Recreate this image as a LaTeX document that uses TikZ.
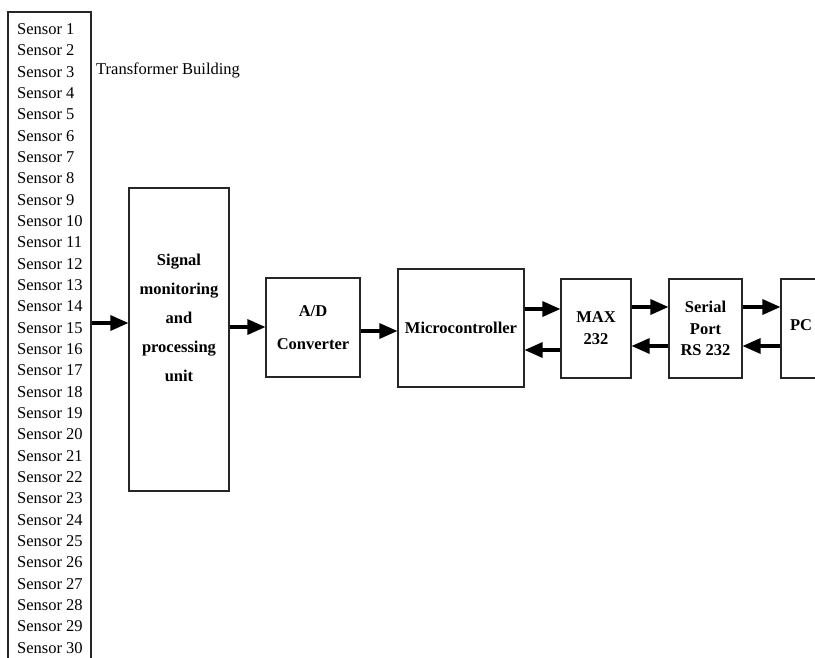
\documentclass[tikz,border=0pt]{standalone}
\usepackage{fontspec}
\setmainfont{Liberation Serif}
\usetikzlibrary{arrows.meta}
\begin{document}
\begin{tikzpicture}[x=1pt,y=-1pt,
  blk/.style={draw=black!85, line width=1.1pt, inner sep=0pt},
  arr/.style={line width=3.2pt, -{Triangle[length=18pt,width=15pt]}},
  lbl/.style={font=\fontsize{16.5}{22}\selectfont\bfseries, align=center, inner sep=0pt},
  sens/.style={font=\fontsize{16.5}{19}\selectfont, anchor=west, inner sep=0pt}]
\useasboundingbox (0,0) rectangle (815,657);
\clip (0,0) rectangle (815,657);
% sensor column
\node[blk, minimum width=83pt, minimum height=700pt] (sensors) at (49.5,362) {};
\foreach \i in {1,...,30}{
  \node[sens] (s\i) at (17,{29+(\i-1)*21.34}) {Sensor \i};
}
\node[sens] (tb) at (96,70) {Transformer Building};
% blocks
\node[blk, minimum width=100pt, minimum height=303pt] (signal) at (179,339.5) {};
\node[lbl, font=\fontsize{16.5}{29}\selectfont\bfseries] (signaltxt) at (179,318) {Signal\\monitoring\\and\\processing\\unit};
\node[blk, minimum width=94pt, minimum height=99pt, lbl, font=\fontsize{16.5}{33}\selectfont\bfseries] (ad) at (313,327.5) {A/D\\Converter};
\node[blk, minimum width=126pt, minimum height=118pt, lbl] (micro) at (461,328) {Microcontroller};
\node[blk, minimum width=70pt, minimum height=99pt, lbl] (max) at (596,328.5) {MAX\\232};
\node[blk, minimum width=73pt, minimum height=99pt, lbl, font=\fontsize{16.5}{21.5}\selectfont\bfseries] (serial) at (705.5,328.5) {Serial\\Port\\RS 232};
\node[blk, minimum width=100pt, minimum height=99pt] (pc) at (831,328.5) {};
\node[lbl] (pctxt) at (801,325) {PC};
% connectors
\draw[arr] (sensors.east |- 0,323) -- (signal.west |- 0,323);
\draw[arr] (signal.east |- 0,327) -- (ad.west |- 0,327);
\draw[arr] (ad.east |- 0,331) -- (micro.west |- 0,331);
\draw[arr] (micro.east |- 0,309) -- (max.west |- 0,309);
\draw[arr] (max.west |- 0,350) -- (micro.east |- 0,350);
\draw[arr] (max.east |- 0,307) -- (serial.west |- 0,307);
\draw[arr] (serial.west |- 0,346) -- (max.east |- 0,346);
\draw[arr] (serial.east |- 0,307) -- (pc.west |- 0,307);
\draw[arr] (pc.west |- 0,346) -- (serial.east |- 0,346);
\end{tikzpicture}
\end{document}
